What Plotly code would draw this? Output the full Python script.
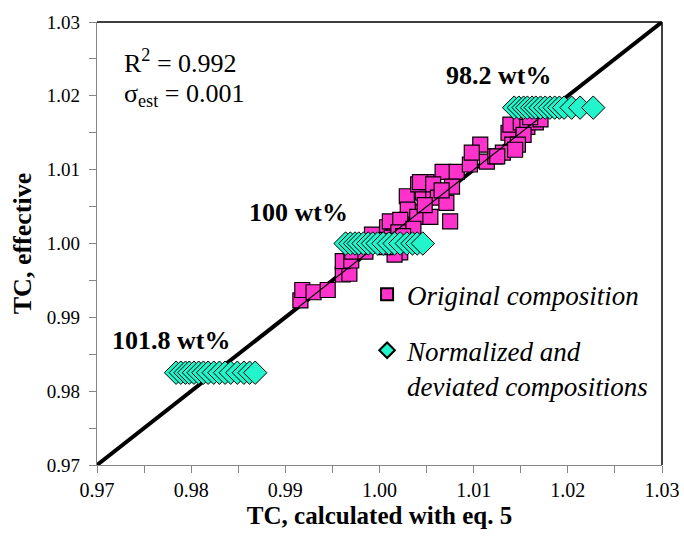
import plotly.graph_objects as go

# ---- data ----
orig_x = [0.9916, 0.9918, 0.9930, 0.9945, 0.9961, 0.9968, 0.9961, 0.9970, 0.9971, 0.9985,
          1.0022, 1.0016, 1.0008, 1.0016, 1.0029, 1.0038, 1.0046, 1.0029, 1.0046, 1.0057,
          1.0041, 1.0050, 1.0067, 1.0082, 1.0107, 1.0096, 1.0114, 1.0123, 1.0043, 1.0057,
          1.0077, 1.0062, 1.0030, 1.0071, 1.0075, 1.0011, 1.0022, 1.0040, 1.0054, 1.0137,
          1.0141, 1.0139, 1.0150, 1.0157, 1.0166, 1.0153, 1.0147, 1.0131, 1.0144, 1.0098,
          1.0125, 1.0171, 1.0160, 1.0000, 0.9992, 1.0013, 1.0006, 1.0033, 1.0020, 1.0036,
          1.0048, 1.0066, 1.0010, 1.0025]
orig_y = [0.9923, 0.9937, 0.9934, 0.9937, 0.9958, 0.9959, 0.9976, 0.9977, 0.9989, 0.9989,
          0.9988, 0.9985, 1.0022, 1.0023, 1.0032, 1.0043, 1.0042, 1.0064, 1.0069, 1.0066,
          1.0080, 1.0083, 1.0097, 1.0097, 1.0134, 1.0107, 1.0111, 1.0118, 1.0083, 1.0080,
          1.0077, 1.0062, 1.0046, 1.0055, 1.0030, 1.0030, 1.0032, 1.0036, 1.0036, 1.0150,
          1.0134, 1.0161, 1.0164, 1.0158, 1.0164, 1.0147, 1.0134, 1.0123, 1.0127, 1.0123,
          1.0118, 1.0168, 1.0171, 1.0005, 1.0012, 1.0008, 0.9995, 0.9999, 1.0015, 1.0020,
          1.0052, 1.0072, 1.0003, 1.0010]

norm_982_x = [1.0143, 1.0148, 1.0153, 1.0157, 1.0162, 1.0166, 1.0171, 1.0176, 1.0181, 1.0186,
              1.0191, 1.0196, 1.0204, 1.0213, 1.0227]
norm_982_y = [1.0184] * len(norm_982_x)
norm_100_x = [0.9964, 0.9969, 0.9974, 0.9978, 0.9983, 0.9988, 0.9993, 0.9998, 1.0004, 1.0010,
              1.0016, 1.0022, 1.0029, 1.0035, 1.0040, 1.0046]
norm_100_y = [1.0000] * len(norm_100_x)
norm_1018_x = [0.9784, 0.9789, 0.9794, 0.9798, 0.9803, 0.9808, 0.9813, 0.9818, 0.9824, 0.9830,
               0.9836, 0.9842, 0.9849, 0.9856, 0.9862, 0.9868]
norm_1018_y = [0.9825] * len(norm_1018_x)

diag = [0.97, 1.03]
ticks = [0.97, 0.98, 0.99, 1.00, 1.01, 1.02, 1.03]
tick_labels = ["0.97", "0.98", "0.99", "1.00", "1.01", "1.02", "1.03"]

FONT = "Liberation Serif"
PINK = "#FF33CC"
CYAN = "#22F5CC"

fig = go.Figure()
fig.add_trace(go.Scatter(x=diag, y=diag, mode="lines", line=dict(color="black", width=4),
                         showlegend=False, hoverinfo="skip"))
fig.add_trace(go.Scatter(x=orig_x, y=orig_y, mode="markers", name="<i>Original composition</i>",
                         legendgroup="orig",
                         marker=dict(symbol="square", size=15, color=PINK,
                                     line=dict(color="black", width=1.2))))
fig.add_trace(go.Scatter(x=diag, y=diag, mode="lines", line=dict(color="black", width=1.2),
                         showlegend=False, hoverinfo="skip"))
fig.add_trace(go.Scatter(x=norm_982_x + norm_100_x + norm_1018_x,
                         y=norm_982_y + norm_100_y + norm_1018_y,
                         mode="markers", name="<i>Normalized and<br>deviated compositions</i>",
                         legendgroup="norm",
                         marker=dict(symbol="diamond", size=18, color=CYAN,
                                     line=dict(color="black", width=1))))


def axis(fs, standoff):
    return dict(range=[0.97, 1.03], tickvals=ticks, ticktext=tick_labels,
                ticks="outside", ticklen=7, tickcolor="#868686", tickwidth=1,
                showline=True, linecolor="#868686", linewidth=1.2,
                showgrid=False, zeroline=False, automargin=False,
                ticklabelstandoff=standoff,
                tickfont=dict(family=FONT, size=fs, color="black"),
                minor=dict(dtick=0.005, tick0=0.97, ticks="outside", ticklen=7,
                           tickcolor="#868686", showgrid=False))


fig.update_layout(
    width=684, height=537,
    margin=dict(l=97, r=22, t=22, b=72),
    plot_bgcolor="white", paper_bgcolor="white",
    font=dict(family=FONT, color="black"),
    xaxis=dict(**axis(20, 0),
               title=dict(text="<b>TC, calculated with eq. 5</b>",
                          font=dict(family=FONT, size=25), standoff=6)),
    yaxis=dict(**axis(19, 5),
               title=dict(text="<b>TC, effective</b>",
                          font=dict(family=FONT, size=26), standoff=7)),
    legend=dict(x=0.478, y=0.44, xanchor="left", yanchor="top", valign="top",
                bgcolor="rgba(0,0,0,0)", font=dict(family=FONT, size=27),
                itemsizing="constant", tracegroupgap=18, itemwidth=30),
    showlegend=True,
)

# top and right frame lines (black)
fig.add_shape(type="line", xref="paper", yref="paper", x0=0, x1=1, y0=1, y1=1,
              line=dict(color="black", width=1.5))
fig.add_shape(type="line", xref="paper", yref="paper", x0=1, x1=1, y0=0, y1=1,
              line=dict(color="black", width=1.5))

ann = [
    dict(x=0.97265, y=1.0246, text="R<sup>2</sup> = 0.992", xanchor="left", size=26),
    dict(x=0.97265, y=1.0201, text="σ<sub>est</sub> = 0.001", xanchor="left", size=26),
    dict(x=1.0126, y=1.0228, text="<b>98.2 wt%</b>", xanchor="center", size=26),
    dict(x=0.9914, y=1.0042, text="<b>100 wt%</b>", xanchor="center", size=26),
    dict(x=0.9779, y=0.9868, text="<b>101.8 wt%</b>", xanchor="center", size=26),
]
for a in ann:
    fig.add_annotation(x=a["x"], y=a["y"], xref="x", yref="y", text=a["text"],
                       showarrow=False, xanchor=a["xanchor"], yanchor="middle",
                       font=dict(family=FONT, size=a["size"], color="black"))

fig.write_html("out.html")
